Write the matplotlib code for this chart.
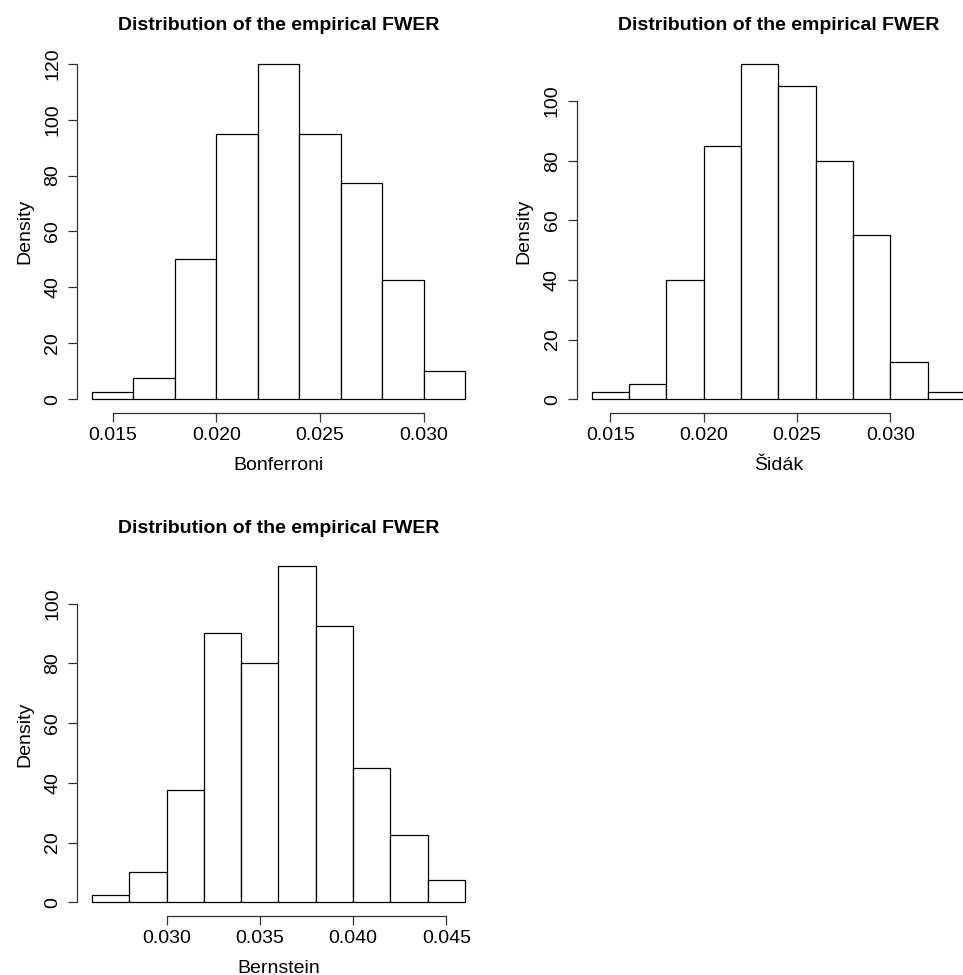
import matplotlib
matplotlib.use("Agg")
import matplotlib.pyplot as plt
import numpy as np

# 数据：直方图的分箱边界与密度
bonf_breaks = [0.014, 0.016, 0.018, 0.020, 0.022, 0.024, 0.026, 0.028, 0.030, 0.032]
bonf_density = [2.5, 7.5, 50, 95, 120, 95, 77.5, 42.5, 10]

sidak_breaks = [0.014, 0.016, 0.018, 0.020, 0.022, 0.024, 0.026, 0.028, 0.030, 0.032, 0.034]
sidak_density = [2.5, 5, 40, 85, 112.5, 105, 80, 55, 12.5, 2.5]

bern_breaks = [0.026, 0.028, 0.030, 0.032, 0.034, 0.036, 0.038, 0.040, 0.042, 0.044, 0.046]
bern_density = [2.5, 10, 37.5, 90, 80, 112.5, 92.5, 45, 22.5, 7.5]

bonf_xticks = [0.015, 0.020, 0.025, 0.030]
sidak_xticks = [0.015, 0.020, 0.025, 0.030]
bern_xticks = [0.030, 0.035, 0.040, 0.045]

bonf_yticks = [0, 20, 40, 60, 80, 100, 120]
other_yticks = [0, 20, 40, 60, 80, 100]

title = "Distribution of the empirical FWER"

plt.rcParams['font.family'] = ['Liberation Sans', 'DejaVu Sans']

W, H = 963, 975
fig = plt.figure(figsize=(W / 100, H / 100), dpi=100)


# 按像素位置放置子图（R 的 mfrow=c(2,2) 布局）
def add_axes_px(x0, y0, x1, y1):
    return fig.add_axes([x0 / W, 1 - y1 / H, (x1 - x0) / W, (y1 - y0) / H])


def r_hist(ax, breaks, density, xticks, yticks, xlabel):
    breaks = np.asarray(breaks)
    ax.bar(breaks[:-1], density, width=np.diff(breaks), align='edge',
           color='white', edgecolor='black', linewidth=0.9)
    # R 的坐标范围会向两边扩展 4%
    span = breaks[-1] - breaks[0]
    ax.set_xlim(breaks[0] - 0.04 * span, breaks[-1] + 0.04 * span)
    top = max(density)
    ax.set_ylim(-0.04 * top, 1.04 * top)

    ax.set_xticks(xticks)
    ax.set_xticklabels([f"{t:.3f}" for t in xticks])
    ax.set_yticks(yticks)
    ax.set_yticklabels([str(t) for t in yticks], rotation=90, va='center')

    for s in ['top', 'right']:
        ax.spines[s].set_visible(False)
    ax.spines['left'].set_bounds(yticks[0], yticks[-1])
    ax.spines['bottom'].set_bounds(xticks[0], xticks[-1])
    for s in ['left', 'bottom']:
        ax.spines[s].set_linewidth(0.9)
        ax.spines[s].set_color('#333333')

    ax.tick_params(axis='both', length=6.5, width=0.9, color='#333333',
                   labelsize=14)
    ax.tick_params(axis='x', pad=4)
    ax.tick_params(axis='y', pad=5)

    ax.set_title(title, fontsize=14, fontweight='bold', pad=14.5)
    ax.set_xlabel(xlabel, fontsize=14, labelpad=9)
    ax.set_ylabel("Density", fontsize=14, labelpad=8)


ax1 = add_axes_px(77, 50.3, 480, 412.6)
r_hist(ax1, bonf_breaks, bonf_density, bonf_xticks, bonf_yticks, "Bonferroni")

ax2 = add_axes_px(576.8, 50.3, 979.8, 412.6)
r_hist(ax2, sidak_breaks, sidak_density, sidak_xticks, other_yticks, "Šidák")

ax3 = add_axes_px(77, 552.8, 480, 915.7)
r_hist(ax3, bern_breaks, bern_density, bern_xticks, other_yticks, "Bernstein")

fig.savefig("out.png", dpi=100)
